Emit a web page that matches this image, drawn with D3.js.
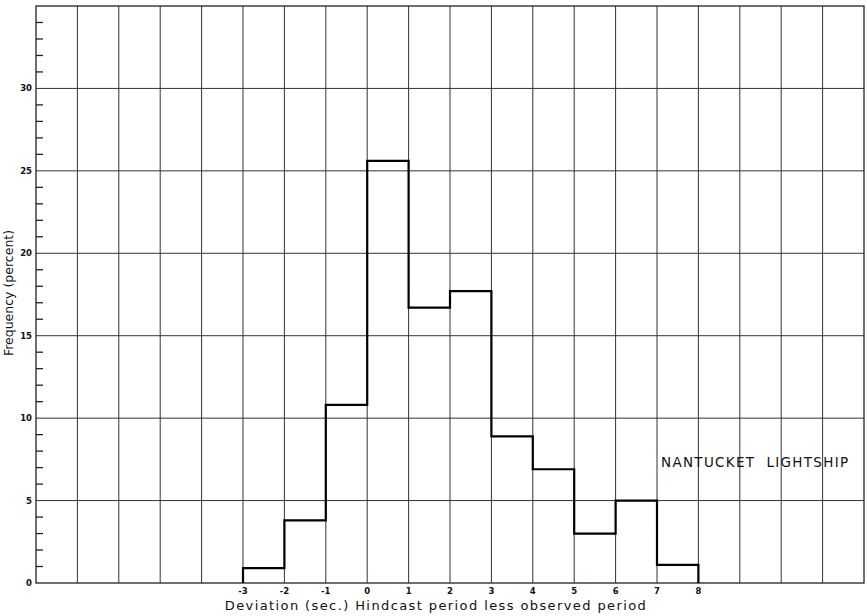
<!DOCTYPE html>
<html>
<head>
<meta charset="utf-8">
<script src="https://cdn.jsdelivr.net/npm/d3@7"></script>
<style>
  body { margin: 0; background: #fff; }
  svg text { font-family: "DejaVu Sans", sans-serif; fill: #111; }
</style>
</head>
<body>
<svg id="chart" width="867" height="616"></svg>
<script>
// Histogram bins: left edge of each 1-second bin and its frequency (percent)
const binStarts = [-3, -2, -1, 0, 1, 2, 3, 4, 5, 6, 7];
const frequencies = [0.9, 3.8, 10.8, 25.6, 16.7, 17.7, 8.9, 6.9, 3.0, 5.0, 1.1];
const xTickLabels = [-3, -2, -1, 0, 1, 2, 3, 4, 5, 6, 7, 8];
const yTickLabels = [0, 5, 10, 15, 20, 25, 30];

const svg = d3.select('#chart');
const margin = { left: 36, right: 3, top: 6, bottom: 33 };
const width = 867 - margin.left - margin.right;
const height = 616 - margin.top - margin.bottom;

const x = d3.scaleLinear().domain([-8, 12]).range([0, width]);
const y = d3.scaleLinear().domain([0, 35]).range([height, 0]);

const g = svg.append('g').attr('transform', `translate(${margin.left},${margin.top})`);

// Grid: vertical every 1 sec, horizontal every 5 percent
g.append('g')
  .selectAll('line')
  .data(d3.range(-7, 12))
  .join('line')
  .attr('x1', d => x(d)).attr('x2', d => x(d))
  .attr('y1', 0).attr('y2', height)
  .attr('stroke', '#333').attr('stroke-width', 1);

g.append('g')
  .selectAll('line')
  .data([5, 10, 15, 20, 25, 30])
  .join('line')
  .attr('x1', 0).attr('x2', width)
  .attr('y1', d => y(d)).attr('y2', d => y(d))
  .attr('stroke', '#333').attr('stroke-width', 1);

// Frame
g.append('rect')
  .attr('x', 0).attr('y', 0)
  .attr('width', width).attr('height', height)
  .attr('fill', 'none').attr('stroke', '#222').attr('stroke-width', 1.3);

// Minor ticks on the left axis, pointing inward
g.append('g')
  .selectAll('line')
  .data(d3.range(1, 35).filter(d => d % 5 !== 0))
  .join('line')
  .attr('x1', 0).attr('x2', 7)
  .attr('y1', d => y(d)).attr('y2', d => y(d))
  .attr('stroke', '#222').attr('stroke-width', 1.3);

// Y tick labels
g.append('g')
  .selectAll('text')
  .data(yTickLabels)
  .join('text')
  .attr('x', -4)
  .attr('y', d => y(d) + 3)
  .attr('text-anchor', 'end')
  .attr('font-size', 8.5)
  .attr('font-weight', 'bold')
  .text(d => d);

// X tick labels
g.append('g')
  .selectAll('text')
  .data(xTickLabels)
  .join('text')
  .attr('x', d => x(d))
  .attr('y', height + 11)
  .attr('text-anchor', 'middle')
  .attr('font-size', 8.5)
  .attr('font-weight', 'bold')
  .text(d => d);

// Step outline of the histogram
const stepPoints = [];
binStarts.forEach((b, i) => {
  stepPoints.push([b, i === 0 ? 0 : frequencies[i - 1]]);
  stepPoints.push([b, frequencies[i]]);
});
const lastEdge = binStarts[binStarts.length - 1] + 1;
stepPoints.push([lastEdge, frequencies[frequencies.length - 1]]);
stepPoints.push([lastEdge, 0]);

g.append('path')
  .datum(stepPoints)
  .attr('d', d3.line().x(d => x(d[0])).y(d => y(d[1])))
  .attr('fill', 'none')
  .attr('stroke', '#000')
  .attr('stroke-width', 2.2);

// Axis titles
svg.append('text')
  .attr('x', 436)
  .attr('y', 610)
  .attr('text-anchor', 'middle')
  .attr('font-size', 13)
  .attr('letter-spacing', 1.4)
  .text('Deviation (sec.) Hindcast period less observed period');

svg.append('text')
  .attr('transform', 'translate(13,293) rotate(-90)')
  .attr('text-anchor', 'middle')
  .attr('font-size', 12.5)
  .text('Frequency (percent)');

// Station label
g.append('text')
  .attr('x', x(7) + 4)
  .attr('y', y(7.5) + 8)
  .attr('font-size', 13.5)
  .attr('letter-spacing', 1.3)
  .style('white-space', 'pre')
  .text('NANTUCKET  LIGHTSHIP');
</script>
</body>
</html>
